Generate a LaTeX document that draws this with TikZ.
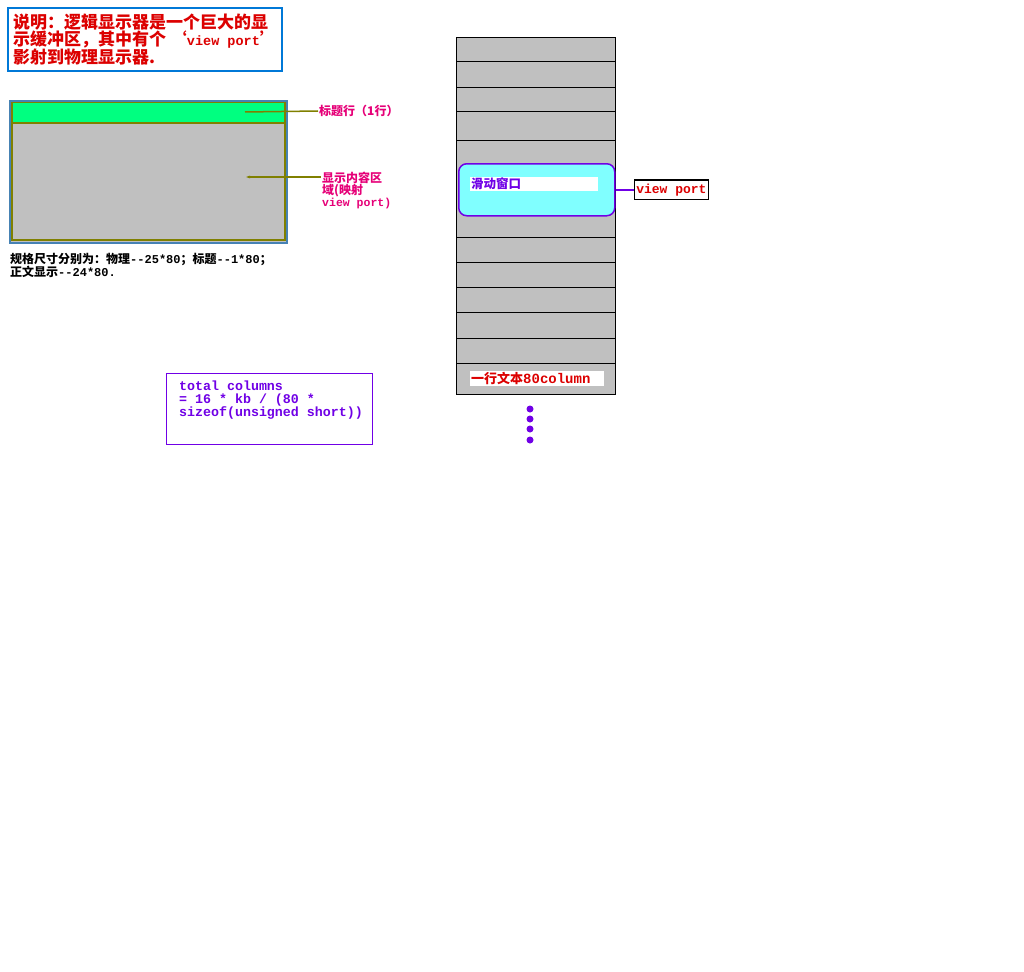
\documentclass[tikz,border=0pt]{standalone}
\usepackage{fontspec}
\setmainfont{Noto Sans CJK SC}
\newfontfamily\monofont{Liberation Mono}
\usetikzlibrary{positioning, arrows.meta}
\definecolor{noteBlue}{RGB}{0,120,215}
\definecolor{tagPink}{RGB}{230,0,120}
\definecolor{bandGreen}{RGB}{0,255,128}
\definecolor{paneGray}{RGB}{192,192,192}
\definecolor{frameSteel}{RGB}{70,130,180}
\definecolor{leadOlive}{RGB}{128,128,0}
\definecolor{winPurple}{RGB}{112,0,230}
\definecolor{winCyan}{RGB}{128,255,255}
\definecolor{textRed}{RGB}{220,0,0}
\newcommand{\mt}[1]{{\monofont #1}}

\begin{document}
\begin{tikzpicture}[
        x=1pt, y=-1pt,
        nota/.style={
            rectangle,
            draw=noteBlue,
            line width=2pt,
            text=textRed,
            align=left,
            anchor=north west,
            inner xsep=4pt,
            minimum width=274pt,
            minimum height=63pt,
            font=\bfseries\fontsize{17}{16.5}\selectfont
        },
        pantalla/.style={
            rectangle,
            draw=frameSteel,
            line width=2pt,
            fill=paneGray,
            anchor=north west,
            minimum width=277pt,
            minimum height=142pt
        },
        franja/.style={
            rectangle,
            draw=leadOlive,
            line width=1.5pt,
            anchor=north west,
            inner sep=0pt
        },
        etiqueta/.style={
            text=tagPink,
            align=left,
            inner sep=1pt,
            font=\bfseries\fontsize{12}{12}\selectfont
        },
        guia/.style={
            draw=leadOlive,
            line width=1.5pt
        },
        cuadro/.style={
            rectangle,
            draw=winPurple,
            line width=1pt,
            anchor=north west,
            minimum width=206pt,
            minimum height=71pt
        },
        buffer/.style={
            rectangle,
            draw=black,
            line width=1pt,
            fill=paneGray,
            anchor=north west,
            minimum width=159pt,
            minimum height=357pt
        },
        fila/.style={
            draw=black,
            line width=1pt
        },
        ventana/.style={
            rectangle,
            rounded corners=8pt,
            draw=winPurple,
            line width=1.5pt,
            fill=winCyan,
            anchor=north west,
            minimum width=156pt,
            minimum height=52pt
        },
        rotulo/.style={
            rectangle,
            fill=white,
            anchor=north west,
            inner sep=1pt,
            align=left,
            font=\bfseries\fontsize{12.5}{12.5}\selectfont
        },
        enlace/.style={
            draw=winPurple,
            line width=1.5pt
        },
        punto/.style={
            circle,
            fill=winPurple,
            inner sep=0pt,
            minimum size=7pt
        }
    ]

        \useasboundingbox[fill=white] (0,0) rectangle (1024,971);

        % nota superior
        \node[nota] (nota) at (7,7) {说明：逻辑显示器是一个巨大的显\\示缓冲区，其中有个 ‘\mt{\fontsize{13.5}{16.5}\selectfont view port}’\\影射到物理显示器.};

        % pantalla fisica
        \node[pantalla] (pantalla) at (9,100) {};
        \node[franja, fill=bandGreen, minimum width=273pt, minimum height=20pt] (titulo) at (11,102) {};
        \node[franja, fill=paneGray, minimum width=273pt, minimum height=117pt] (cuerpo) at (11,122) {};

        \coordinate (ptitulo) at (245,112);
        \coordinate (pcuerpo) at (245,177);
        \node[etiqueta, anchor=west] (tagtitulo) at (318,111) {标题行（1行）};
        \node[etiqueta, anchor=north west] (tagcuerpo) at (321,171) {显示内容区\\域(映射\\\mt{\fontsize{11.5}{12}\selectfont view port)}};
        \draw[guia] (ptitulo) -- (tagtitulo.west);
        \draw[guia, {Latex[length=5pt,width=3pt]}-] (pcuerpo) -- (pcuerpo -| tagcuerpo.west);

        \node[anchor=north west, inner sep=0pt, align=left, font=\bfseries\fontsize{12}{13}\selectfont\monofont] (medidas) at (10,253)
            {{\rmfamily 规格尺寸分别为：物理}--25*80{\rmfamily ；标题}--1*80{\rmfamily ；}\\{\rmfamily 正文显示}--24*80.};

        % total de columnas
        \node[cuadro] (cuadro) at (166,373) {};
        \node[anchor=north west, inner sep=0pt, align=left, text=winPurple, font=\bfseries\monofont\fontsize{13.3}{13}\selectfont] (formula) at ([shift={(13,8)}]cuadro.north west)
            {total columns\\= 16 * kb / (80 *\\sizeof(unsigned short))};

        % buffer logico
        \node[buffer] (buffer) at (456,37) {};
        \foreach \y in {62,88,112,140,237,262,287,312,338,363}
            \draw[fila] (buffer.west |- 0,\y) -- (buffer.east |- 0,\y);

        \node[ventana] (ventana) at (458,163) {};
        \node[rotulo, text=winPurple, text width=126pt] (tagventana) at (470,177) {滑动窗口};
        \node[rectangle, draw=black, line width=1.5pt, inner xsep=2pt, inner ysep=3.5pt, text=textRed, font=\bfseries\monofont\fontsize{13}{13}\selectfont, right=18pt of ventana] (vport) {view port};
        \draw[enlace] (ventana.east) -- (vport.west);

        \node[rotulo, text=textRed, text width=132pt, font=\bfseries\fontsize{13}{13}\selectfont] (tagfila) at (470,371) {一行文本\mt{\fontsize{14}{13}\selectfont 80column}};

        \foreach \y [count=\i] in {409,419,429,440}
            \node[punto] (punto\i) at (530,\y) {};

    \end{tikzpicture}
\end{document}
